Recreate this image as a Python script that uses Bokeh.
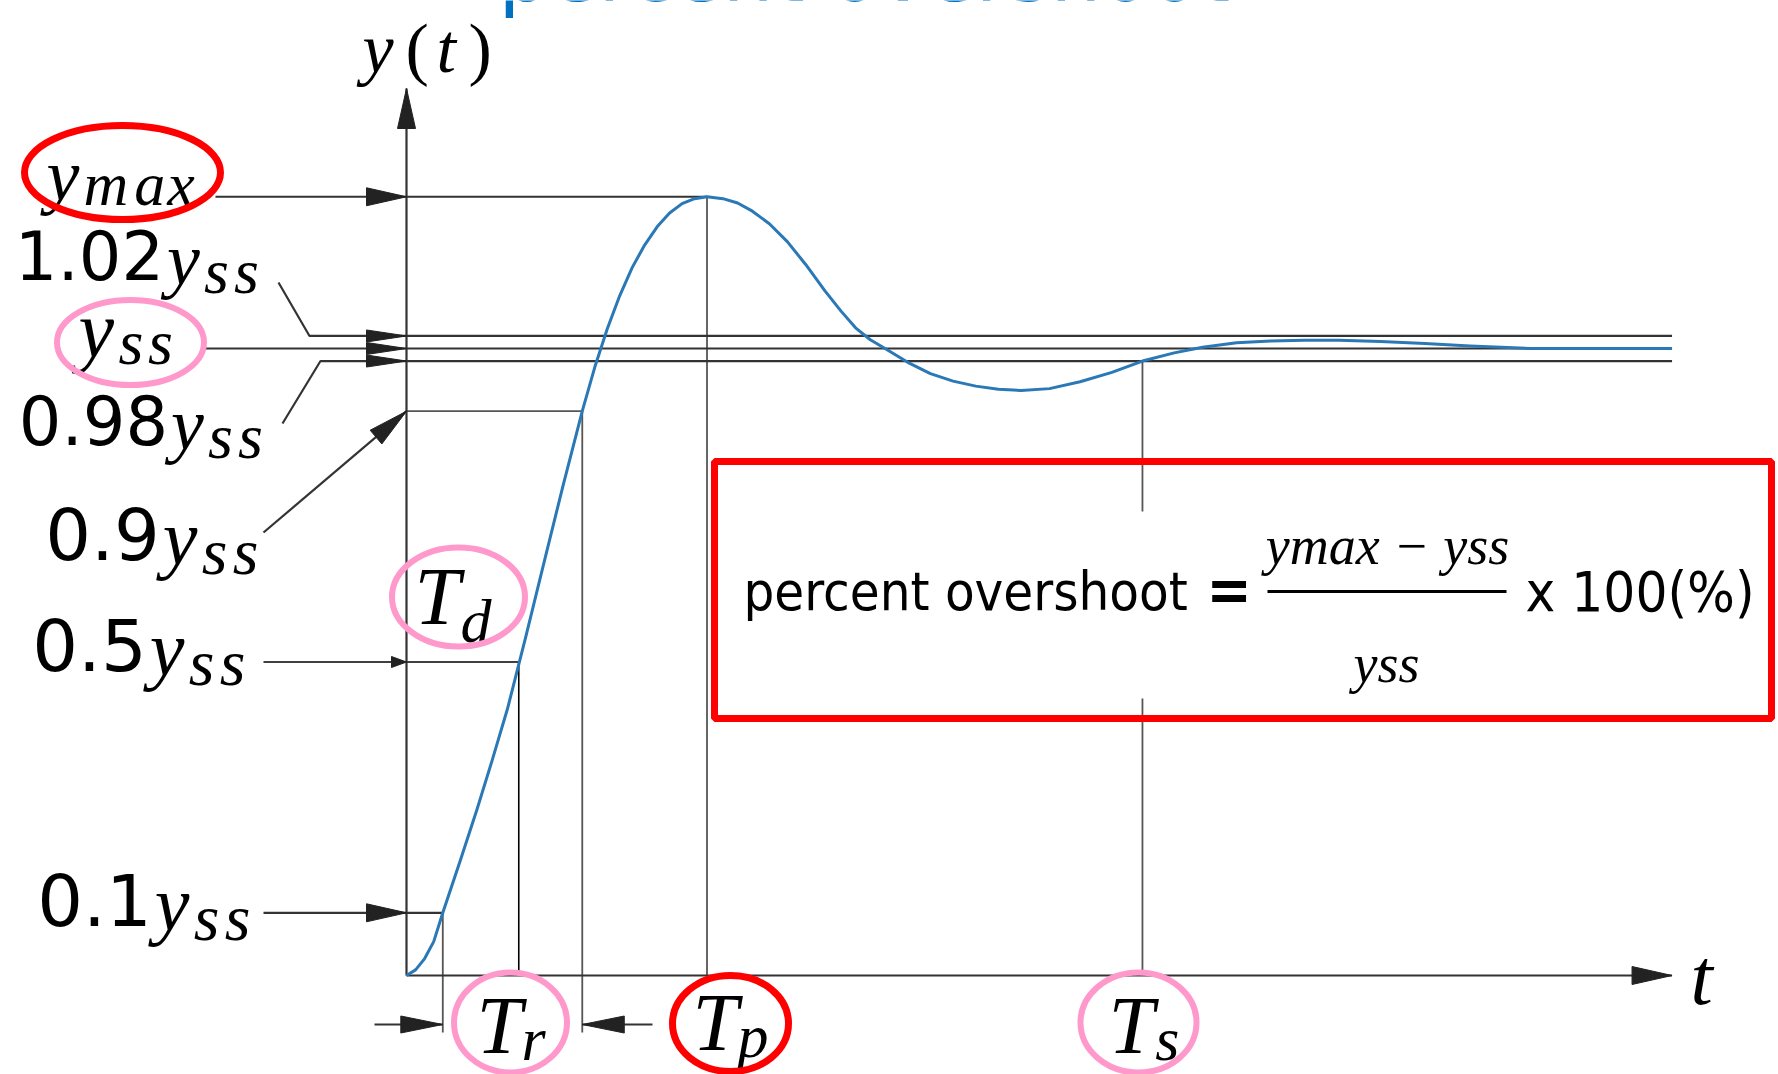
import math
from bokeh.plotting import figure
from bokeh.models import Range1d
from bokeh.core.properties import value
from bokeh.embed import file_html
from bokeh.resources import INLINE

# ---------------------------------------------------------------- data
# unit-step response: time (arbitrary units) and output as multiples of y_ss
t_resp = [0.00, 0.08, 0.16, 0.24, 0.32, 0.47, 0.62, 0.75, 0.89, 1.05,
          1.22, 1.38, 1.55, 1.66, 1.77, 1.88, 1.99, 2.10, 2.21, 2.32,
          2.43, 2.54, 2.65, 2.79, 2.92, 3.05, 3.20, 3.36, 3.52, 3.69,
          3.83, 3.96, 4.09, 4.22, 4.42, 4.62, 4.82, 5.02, 5.22, 5.42,
          5.67, 5.94, 6.22, 6.49, 6.77, 7.02, 7.32, 7.62, 7.92, 8.22,
          8.59, 8.98, 9.38, 9.91, 11.16]
y_resp = [0.000, 0.009, 0.027, 0.054, 0.100, 0.181, 0.264, 0.340, 0.425, 0.539,
          0.664, 0.781, 0.900, 0.970, 1.031, 1.084, 1.129, 1.165, 1.194, 1.216,
          1.231, 1.239, 1.242, 1.239, 1.232, 1.219, 1.199, 1.170, 1.134, 1.092,
          1.060, 1.033, 1.014, 1.000, 0.978, 0.960, 0.948, 0.940, 0.935, 0.933,
          0.936, 0.947, 0.962, 0.980, 0.993, 1.002, 1.009, 1.012, 1.013, 1.013,
          1.011, 1.008, 1.004, 1.000, 1.000]

# reference levels (multiples of y_ss)
y_ss = 1.0
y_max = 1.242
lvl_10, lvl_50, lvl_90 = 0.1, 0.5, 0.9
band_lo, band_hi = 0.98, 1.02
level_text = {"0.1": lvl_10, "0.5": lvl_50, "0.9": lvl_90,
              "0.98": band_lo, "1.02": band_hi}

# characteristic times
t_10, t_50, t_90 = 0.32, 0.99, 1.55   # 10 %, 50 %, 90 % crossings
t_p = 2.65                            # peak time
t_s = 6.49                            # settling time (2 % band)
t_end = 11.16                         # end of time axis

# ---------------------------------------------------------------- canvas
W, H = 1778, 1074
OX, OY = 406.0, 975.0      # pixel position of the origin
SX, SY = 113.4, 627.0      # pixels per time unit / per y_ss


def X(px):
    return (px - OX) / SX


def Y(py):
    return (OY - py) / SY


def PX(t):
    return OX + t * SX


def PY(y):
    return OY - y * SY


p = figure(width=W, height=H, output_backend="svg", toolbar_location=None,
           x_range=Range1d(X(0), X(W)), y_range=Range1d(Y(H), Y(0)),
           x_axis_type=None, y_axis_type=None, min_border=0)
p.grid.visible = False
p.outline_line_color = None
p.background_fill_color = "white"
p.border_fill_color = "white"

SERIF = "Liberation Serif"
SANS = "DejaVu Sans"
NARROW = "DejaVu Sans Condensed, Liberation Sans, sans-serif"
PINK = "#FF99CC"
RED = "#FF0000"
INK = "#333333"
GREY = "#555555"

# baseline correction (fraction of the font size) per family
DROP = {SERIF: 0.31, SANS: 0.39, NARROW: 0.40}


def put(x_px, base_px, s, size, font, style="normal", align="left", color="black"):
    """Place text so that its baseline sits at base_px (canvas pixels)."""
    yb = base_px - DROP[font] * size
    p.text(x=[X(x_px)], y=[Y(yb)], text=[s], text_font=value(font),
           text_font_size=f"{size}px", text_font_style=style,
           text_align=align, text_baseline="alphabetic", text_color=color)


def run(x_px, base_px, parts):
    """Typeset a row of italic glyphs: (chars, size, advance_em, drop_px)."""
    x = x_px
    for chars, size, adv, drop in parts:
        for c in chars:
            put(x, base_px + drop, c, size, SERIF, "italic")
            x += adv * size
    return x


# ---------------------------------------------------------------- arrowheads
heads_x, heads_y = [], []


def head(tip, direction, L=40, hw=9):
    tx, ty = tip
    dx, dy = direction
    n = math.hypot(dx, dy)
    ux, uy = dx / n, dy / n
    bx, by = tx - L * ux, ty - L * uy
    nx, ny = -uy, ux
    pts = [(tx, ty), (bx + hw * nx, by + hw * ny), (bx - hw * nx, by - hw * ny)]
    heads_x.append([X(a) for a, _ in pts])
    heads_y.append([Y(b) for _, b in pts])


# ---------------------------------------------------------------- guide lines
below = Y(1032)      # how far the rise-time guides drop under the t axis
tr_row = Y(1024)     # row of the rise-time arrows

grey_x = [[0, t_90], [t_90, t_90], [t_10, t_10], [t_p, t_p], [t_s, t_s]]
grey_y = [[lvl_90, lvl_90], [lvl_90, below], [lvl_10, below], [y_max, 0], [band_lo, 0]]
p.multi_line(xs=grey_x, ys=grey_y, line_color=GREY, line_width=1.8)

p.multi_line(xs=[[X(263), t_50], [t_50, t_50]], ys=[[lvl_50, lvl_50], [lvl_50, 0]],
             line_color="black", line_width=1.6)

ink_x = [[0, 0], [0, t_end], [X(215), t_p],
         [X(278), X(309), t_end], [X(204), t_end], [X(282), X(320), t_end],
         [X(263), 0], [X(263), t_10],
         [X(374), t_10], [X(652), t_90]]
ink_y = [[0, Y(88)], [0, 0], [y_max, y_max],
         [Y(282), band_hi, band_hi], [y_ss, y_ss], [Y(423), band_lo, band_lo],
         [Y(532), lvl_90], [lvl_10, lvl_10],
         [tr_row, tr_row], [tr_row, tr_row]]
p.multi_line(xs=ink_x, ys=ink_y, line_color=INK, line_width=2.2)

head((PX(0), 88), (0, -1))
head((PX(t_end), PY(0)), (1, 0))
head((PX(0), PY(y_max)), (1, 0))
head((PX(0), PY(band_hi)), (1, 0), hw=6)
head((PX(0), PY(y_ss)), (1, 0), hw=6)
head((PX(0), PY(band_lo)), (1, 0), hw=6)
head((PX(0), PY(lvl_90)), (PX(0) - 263, PY(lvl_90) - 532))
head((PX(0), PY(lvl_50)), (1, 0), L=15, hw=5.5)
head((PX(0), PY(lvl_10)), (1, 0))
head((PX(t_10), PY(tr_row)), (1, 0), L=42, hw=8.5)
head((PX(t_90), PY(tr_row)), (-1, 0), L=42, hw=8.5)
p.patches(xs=heads_x, ys=heads_y, fill_color="#222222", line_color="#222222", line_width=1)

# ---------------------------------------------------------------- response
p.line(t_resp, y_resp, line_color="#2a78b5", line_width=3, line_join="round")

# ---------------------------------------------------------------- formula box
p.quad(left=[X(731)], right=[X(1758)], top=[Y(511)], bottom=[Y(698)],
       fill_color="white", line_color=None)
p.quad(left=[X(714)], right=[X(1771)], top=[Y(461)], bottom=[Y(718)],
       fill_alpha=0, line_color=RED, line_width=7)
put(743, 613, "percent overshoot", 54, NARROW)
put(1206, 613, "=", 60, NARROW, "bold")
p.segment(x0=[X(1267)], y0=[Y(591)], x1=[X(1506)], y1=[Y(591)],
          line_color="black", line_width=3)
put(1387, 562, "ymax \u2212 yss", 54, SERIF, "italic", "center")
put(1386, 680, "yss", 54, SERIF, "italic", "center")
put(1525, 613, "x 100(%)", 56, NARROW)

# ---------------------------------------------------------------- labels
def w_num(s, size):
    return sum(0.318 if c == "." else 0.636 for c in s) * size


def level_label(num, cx, base, nsize, ysize, ssize):
    wn = w_num(num, nsize) + 3
    total = wn + 0.50 * ysize + 2 * 0.47 * ssize
    left = cx - total / 2
    put(left, base, num, nsize, SANS)
    run(left + wn, base, [("y", ysize, 0.50, 0), ("ss", ssize, 0.47, 10)])


level_label("1.02", 139, 281, 67, 74, 64)
level_label("0.98", 143, 446, 67, 74, 64)
level_label("0.9", 154, 561, 72, 78, 66)
level_label("0.5", 141, PY(level_text["0.5"]) + 11, 72, 78, 66)
level_label("0.1", 146, PY(level_text["0.1"]) + 15, 72, 78, 66)

# y_max and y_ss labels
x = run(46, 197, [("y", 74, 0.50, 0)])
run(x, 197, [("m", 62, 0.82, 6), ("a", 62, 0.53, 6), ("x", 62, 0.55, 6)])
run(78, 354, [("y", 80, 0.50, 0), ("ss", 64, 0.46, 8)])

# axis titles
put(362, 70, "y", 70, SERIF, "italic")
put(405, 70, "(", 70, SERIF)
put(436, 70, "t", 70, SERIF, "italic")
put(468, 70, ")", 70, SERIF)
put(1690, 1001, "t", 80, SERIF, "italic")

# time labels
td_base = PY(lvl_50) - 40
run(414, td_base, [("T", 82, 0.56, 0), ("d", 62, 0.5, 18)])
run(476, 1050, [("T", 82, 0.55, 0), ("r", 62, 0.5, 8)])
run(692, 1047, [("T", 82, 0.55, 0), ("p", 62, 0.5, 8)])
run(1108, 1050, [("T", 82, 0.57, 0), ("s", 62, 0.5, 8)])

# slide heading running off the top edge
put(498, 4, "percent overshoot", 80, SANS, color="#0070C0")

# ---------------------------------------------------------------- highlight rings
p.ellipse(x=[X(122), X(730)], y=[Y(172), Y(1023)], width=[196, 116], height=[94, 96],
          width_units="screen", height_units="screen",
          fill_alpha=0, line_color=RED, line_width=7)
p.ellipse(x=[X(130), X(458), X(510), X(1138)],
          y=[Y(342), Y(PY(lvl_50) - 65), Y(1022), Y(1022)],
          width=[147, 133, 113, 116], height=[85, 99, 100, 100],
          width_units="screen", height_units="screen",
          fill_alpha=0, line_color=PINK, line_width=6)

open("out.html", "w").write(file_html(p, INLINE))
